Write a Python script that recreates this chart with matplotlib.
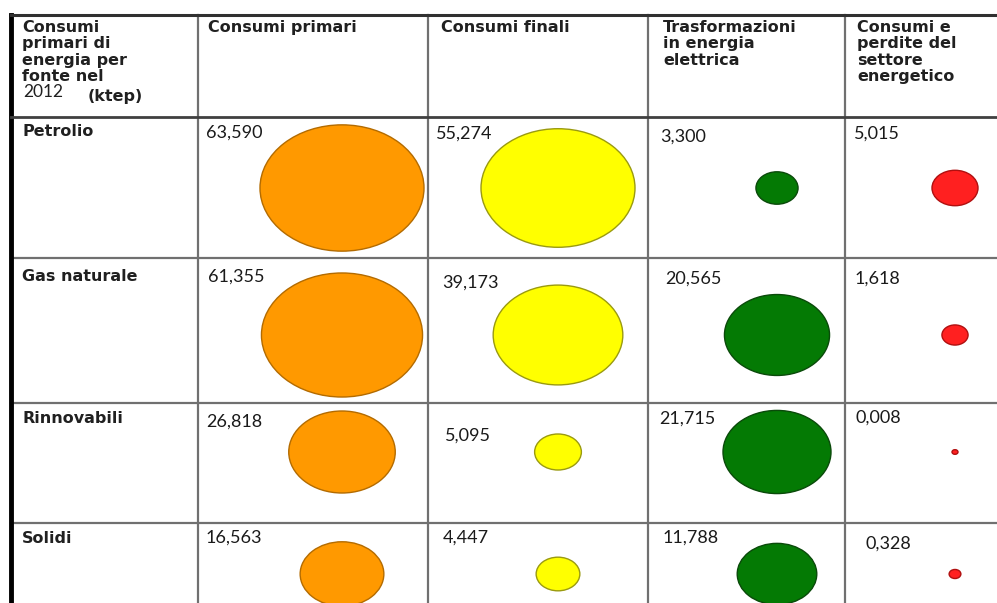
import matplotlib.pyplot as plt
from matplotlib.patches import Ellipse
import numpy as np

# --- dati: consumi per fonte nel 2012 ---
fonti = ['Petrolio', 'Gas naturale', 'Rinnovabili', 'Solidi']
intestazioni = [
    'Consumi\nprimari di\nenergia per\nfonte nel',
    'Consumi primari',
    'Consumi finali',
    'Trasformazioni\nin energia\nelettrica',
    'Consumi e\nperdite del\nsettore\nenergetico',
]
consumi_primari = [63.590, 61.355, 26.818, 16.563]
consumi_finali = [55.274, 39.173, 5.095, 4.447]
trasformazioni = [3.300, 20.565, 21.715, 11.788]
perdite = [5.015, 1.618, 0.008, 0.328]

colonne = [consumi_primari, consumi_finali, trasformazioni, perdite]
colori = ['#ff9900', '#ffff00', '#047a04', '#ff2020']
bordi = ['#b36b00', '#9a9a10', '#0a4a0a', '#b01010']

# --- layout della tabella (coordinate in pixel) ---
W, H = 997, 603
x_col = [11, 198, 428, 648, 845]
y_row = [15, 117, 258, 403, 523]
cx = [342, 558, 777, 955]          # centro dei cerchi per colonna
cy = [188, 335, 452, 574]          # centro dei cerchi per riga
w_max = [164, 154, 108, 46]        # diametro del valore massimo di ogni colonna
schiaccia = 0.77                   # rapporto altezza / larghezza

fig = plt.figure(figsize=(W / 100, H / 100), dpi=100)
ax = fig.add_axes([0, 0, 1, 1])
ax.set_xlim(0, W)
ax.set_ylim(H, 0)
ax.axis('off')

# griglia
for x in x_col[1:]:
    ax.plot([x, x], [y_row[0], H], color='#707070', lw=1.6, zorder=1)
ax.plot([x_col[0], x_col[0]], [y_row[0], H], color='black', lw=3.5, zorder=2)
ax.plot([x_col[0], W], [y_row[0], y_row[0]], color='#303030', lw=2.2, zorder=2)
ax.plot([x_col[0], W], [y_row[1], y_row[1]], color='#404040', lw=2.0, zorder=2)
for y in y_row[2:]:
    ax.plot([x_col[0], W], [y, y], color='#707070', lw=1.6, zorder=1)

# intestazioni
font_b = dict(family='DejaVu Sans', weight='bold', fontsize=11.5, color='#202020')
ax.text(22, 20, intestazioni[0], va='top', ha='left', linespacing=1.12, **font_b)
ax.text(23, 84, '2012', va='top', ha='left', family='Lato', fontsize=12.5, color='#202020')
ax.text(88, 89, '(ktep)', va='top', ha='left', **font_b)
hx = [208, 441, 663, 857]
for j in range(4):
    ax.text(hx[j], 20, intestazioni[j + 1], va='top', ha='left', linespacing=1.12, **font_b)

# etichette delle righe
y_fonte = [124, 269, 411, 531]
for i, f in enumerate(fonti):
    ax.text(22, y_fonte[i], f, va='top', ha='left', **font_b)

# valori e cerchi
lx = [[206, 436, 660, 854], [208, 442, 665, 855], [206, 445, 659, 855], [206, 443, 663, 865]]
ly = [[125, 126, 129, 126], [269, 275, 271, 271], [414, 428, 411, 410], [530, 530, 530, 536]]
for j, valori in enumerate(colonne):
    vmax = max(valori)
    for i, v in enumerate(valori):
        testo = f'{v:.3f}'.replace('.', ',')
        ax.text(lx[i][j], ly[i][j], testo, va='top', ha='left', family='Lato',
                fontsize=13, color='#1a1a1a')
        d = max(w_max[j] * np.sqrt(v / vmax), 6)
        ax.add_patch(Ellipse((cx[j], cy[i]), d, d * schiaccia, facecolor=colori[j],
                             edgecolor=bordi[j], lw=1.0, zorder=3))

fig.savefig('out.png', dpi=100)
